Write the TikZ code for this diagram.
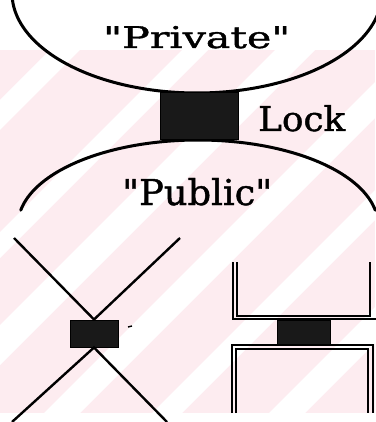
\documentclass[tikz,border=0pt]{standalone}
\usepackage{fontspec}
\setmainfont{DejaVu Serif}[Ligatures=TeXOff]
\newfontfamily\lblfont{DejaVu Serif}[Ligatures=TeXOff, FakeBold=1.2]
\usepackage{graphicx}
\definecolor{wm}{RGB}{253,236,240}
\begin{document}
\begin{tikzpicture}[x=1pt,y=-1pt,
  arcline/.style={line width=3pt, line cap=round},
  xline/.style={line width=2.4pt},
  wall/.style={line width=1.4pt},
  lockbox/.style={fill=black!90, draw=black, line width=1pt, inner sep=0pt},
  lbl/.style={inner sep=0pt, anchor=base west, font=\lblfont}]
\useasboundingbox (0,0) rectangle (375,422);
% watermark band
\fill[wm] (0,50) rectangle (375,413);
\begin{scope}
\clip (0,50) rectangle (375,413);
\foreach \c/\w in {115/30,245/26,345/40,475/36,580/30,700/36}{
  \fill[white] ({\c-\w/2-50},50) -- ({\c+\w/2-50},50) -- ({\c+\w/2-413},413) -- ({\c-\w/2-413},413) -- cycle;
}
\end{scope}
% arcs
\draw[arcline] plot[domain=2:178, samples=90, smooth] ({197+185*cos(\x)},{-7+100*sin(\x)});
\draw[arcline] plot[domain=10:170, samples=90, smooth] ({198+180*cos(\x)},{225-85*sin(\x)});
% main lock
\node[lockbox, minimum width=78pt, minimum height=47pt] (lock) at (199,116.5) {};
% labels
\node[lbl] (private) at (103,48) {\resizebox{187pt}{22pt}{"Private"}};
\node[lbl] (locklbl) at (258,131) {\resizebox{87pt}{26pt}{Lock}};
\node[lbl] (public) at (122,205) {\resizebox{150pt}{27pt}{"Public"}};
% left: crossed lines
\node[lockbox, minimum width=48pt, minimum height=27pt] (xlock) at (94,333.5) {};
\coordinate (xa) at (14,238);
\coordinate (xb) at (180,238);
\coordinate (xc) at (12,422);
\coordinate (xd) at (167,422);
\draw[xline] (xa) -- (xlock.north) -- (xb);
\draw[xline] (xc) -- (xlock.south) -- (xd);
\draw[line width=1.4pt] (128,327) -- (132,326);
% right: channels
\node[lockbox, minimum width=53pt, minimum height=25pt] (clock) at (303.5,332.5) {};
\draw[wall] (233,262) -- (233,319) -- (376,319);
\draw[wall] (237,262) -- (237,316) -- (370,316) -- (370,262);
\draw[wall] (232,413) -- (232,345) -- (373,345) -- (373,413);
\draw[wall] (236,413) -- (236,349) -- (368,349) -- (368,413);
\end{tikzpicture}
\end{document}
